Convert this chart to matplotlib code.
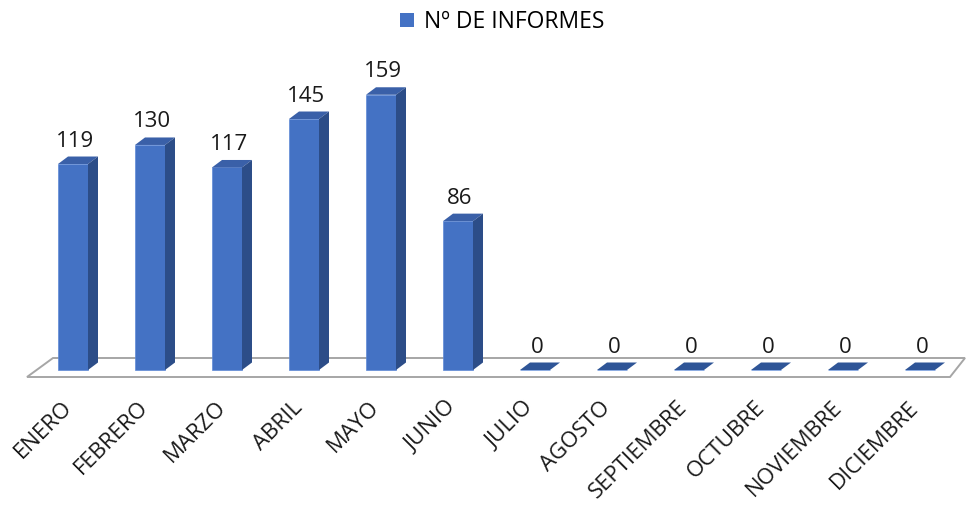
import numpy as np
import matplotlib.pyplot as plt
from matplotlib.patches import Polygon, Patch

meses = ['ENERO', 'FEBRERO', 'MARZO', 'ABRIL', 'MAYO', 'JUNIO', 'JULIO',
         'AGOSTO', 'SEPTIEMBRE', 'OCTUBRE', 'NOVIEMBRE', 'DICIEMBRE']
informes = [119, 130, 117, 145, 159, 86, 0, 0, 0, 0, 0, 0]
serie = 'Nº DE INFORMES'

FRONT = '#4472C4'
SIDE = '#2C4D88'
TOP = '#3A60A8'
FLOOR = '#A6A6A6'

plt.rcParams['font.family'] = ['Open Sans', 'DejaVu Sans']

W, H = 966, 511
px_x = 77.0      # pixels per category
px_y = 1.731     # pixels per unit of value
x0 = 73.0        # pixel of the first bar centre
base = 370.0     # pixel row (from top) of the value 0

fig = plt.figure(figsize=(W / 100, H / 100), dpi=100)
ax = fig.add_axes([0, 0, 1, 1])
ax.set_xlim(-x0 / px_x, (W - x0) / px_x)
ax.set_ylim(-(H - base) / px_y, base / px_y)
ax.axis('off')

x = np.arange(len(meses))
w = 30 / px_x
dx = 10 / px_x
dy = 7.5 / px_y

# floor of the 3d chart
fl_front = -7 / px_y
fl_back = 12 / px_y
floor = Polygon([(-46 / px_x, fl_front), (x[-1] + 30 / px_x, fl_front),
                 (x[-1] + 45 / px_x, fl_back), (-20 / px_x, fl_back)],
                closed=True, facecolor='white', edgecolor=FLOOR, lw=1.4, zorder=1)
ax.add_patch(floor)

ax.bar(x, informes, width=w, color=FRONT, edgecolor='#5E8AD6', lw=0.5, zorder=3)

for xi, v in zip(x, informes):
    l, r = xi - w / 2, xi + w / 2
    top = Polygon([(l, v), (r, v), (r + dx, v + dy), (l + dx, v + dy)],
                  closed=True, facecolor=TOP if v > 0 else '#2F5597',
                  edgecolor='none', zorder=3)
    ax.add_patch(top)
    if v > 0:
        side = Polygon([(r, 0), (r + dx, dy), (r + dx, v + dy), (r, v)],
                       closed=True, facecolor=SIDE, edgecolor='none', zorder=3)
        ax.add_patch(side)
    ax.text(xi + 2 / px_x, v + dy + 10 / px_y, str(v), ha='center', va='baseline',
            fontsize=16, color='#1a1a1a', zorder=4)

for xi, m in zip(x, meses):
    ax.text(xi - 12 / px_x, -27 / px_y, m, rotation=45, rotation_mode='anchor',
            ha='right', va='top', fontsize=16, color='#1a1a1a')

fig.legend(handles=[Patch(facecolor=FRONT, label=serie)], loc='upper center',
           bbox_to_anchor=(502 / W, 1 - 1 / H), frameon=False, fontsize=16.5,
           borderaxespad=0, handlelength=0.6, handleheight=0.6, handletextpad=0.45)

fig.savefig('out.png', dpi=100)
